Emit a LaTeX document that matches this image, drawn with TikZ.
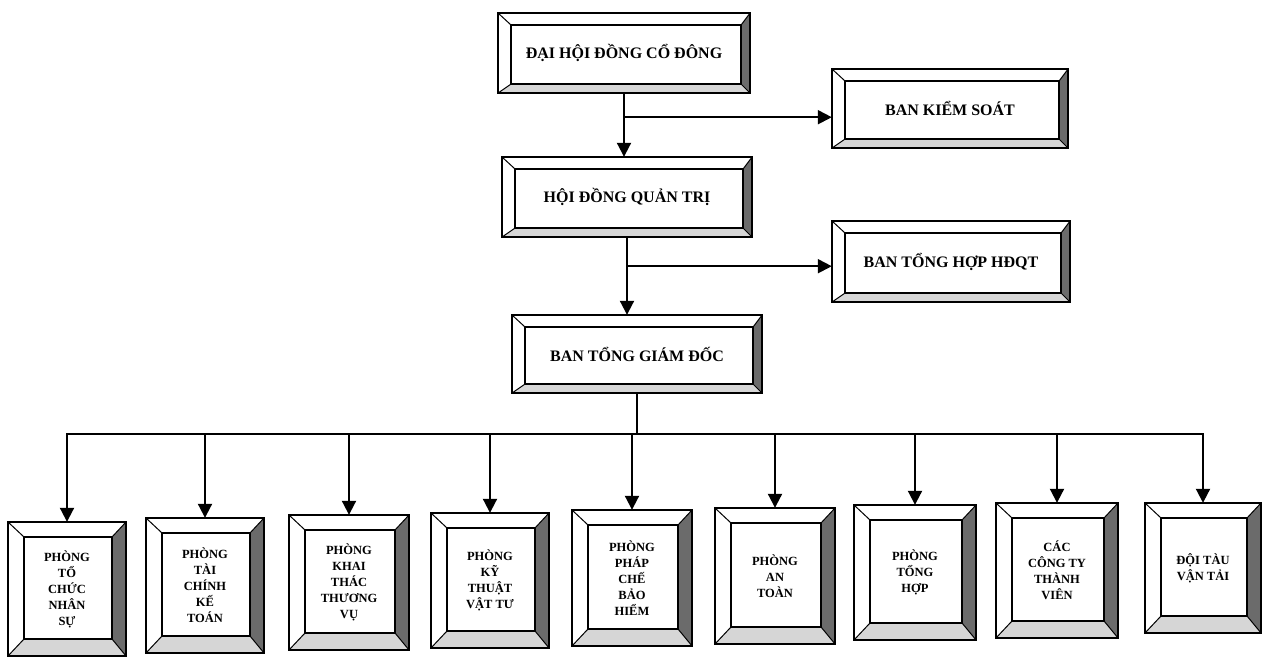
\documentclass[tikz,border=0pt]{standalone}
\usepackage{fontspec}
\setmainfont{Liberation Serif}
\usetikzlibrary{calc,arrows.meta}

\tikzset{
  bevel/.style={inner sep=0pt, align=center},
  topfont/.style={font=\bfseries\fontsize{16}{19}\selectfont},
  subfont/.style={font=\bfseries\fontsize{12.5}{16}\selectfont},
  darkbev/.style={fill=black!58},
  lightbev/.style={fill=black!16},
  outerline/.style={line width=1.9pt},
  innerline/.style={line width=1.5pt},
  diagline/.style={line width=1pt},
  conn/.style={line width=2pt},
  arr/.style={conn, -{Triangle[length=14pt,width=14pt]}},
}

% name, position, width, height, style, text
\newcommand{\bevelbox}[6]{%
  \node[bevel, minimum width=#3pt, minimum height=#4pt, #5] (#1) at (#2) {#6};
  \fill[darkbev] (#1.north east) -- (#1.south east) -- ($(#1.south east)+(-\bvr,-\bvb)$) -- ($(#1.north east)+(-\bvr,\bvt)$) -- cycle;
  \fill[lightbev] (#1.south west) -- (#1.south east) -- ($(#1.south east)+(-\bvr,-\bvb)$) -- ($(#1.south west)+(\bvl,-\bvb)$) -- cycle;
  \draw[diagline] (#1.north west) -- ($(#1.north west)+(\bvl,\bvt)$)
                  (#1.north east) -- ($(#1.north east)+(-\bvr,\bvt)$)
                  (#1.south east) -- ($(#1.south east)+(-\bvr,-\bvb)$)
                  (#1.south west) -- ($(#1.south west)+(\bvl,-\bvb)$);
  \draw[innerline] ($(#1.north west)+(\bvl,\bvt)$) rectangle ($(#1.south east)+(-\bvr,-\bvb)$);
  \draw[outerline] (#1.north west) rectangle (#1.south east);
}

\begin{document}
\begin{tikzpicture}[x=1pt,y=-1pt]
\useasboundingbox (0,0) rectangle (1263,657);

% wide boxes
\def\bvl{13}\def\bvt{12}\def\bvr{9}\def\bvb{9}
\bevelbox{dh}{624,53}{252}{80}{topfont}{ĐẠI HỘI ĐỒNG CỔ ĐÔNG}
\bevelbox{bks}{950,108.5}{236}{79}{topfont}{BAN KIỂM SOÁT}
\bevelbox{hd}{627,197}{250}{80}{topfont}{HỘI ĐỒNG QUẢN TRỊ}
\bevelbox{bth}{951,261.5}{238}{81}{topfont}{BAN TỔNG HỢP HĐQT}
\bevelbox{btgd}{637,354}{250}{78}{topfont}{BAN TỔNG GIÁM ĐỐC}

% tall boxes
\def\bvl{16}\def\bvt{15}\def\bvr{14}\def\bvb{17}
\bevelbox{p1}{67,589}{118}{134}{subfont}{PHÒNG\\TỔ\\CHỨC\\NHÂN\\SỰ}
\bevelbox{p2}{205,585.5}{118}{135}{subfont}{PHÒNG\\TÀI\\CHÍNH\\KẾ\\TOÁN}
\bevelbox{p3}{349,582.5}{120}{135}{subfont}{PHÒNG\\KHAI\\THÁC\\THƯƠNG\\VỤ}
\bevelbox{p4}{490,580.5}{118}{135}{subfont}{PHÒNG\\KỸ\\THUẬT\\VẬT TƯ}
\bevelbox{p5}{632,578}{120}{136}{subfont}{PHÒNG\\PHÁP\\CHẾ\\BẢO\\HIỂM}
\bevelbox{p6}{775,576}{120}{136}{subfont}{PHÒNG\\AN\\TOÀN}
\bevelbox{p7}{915,572.5}{122}{135}{subfont}{PHÒNG\\TỔNG\\HỢP}
\bevelbox{p8}{1057,570.5}{122}{135}{subfont}{CÁC\\CÔNG TY\\THÀNH\\VIÊN}
\bevelbox{p9}{1203,568}{116}{130}{subfont}{ĐỘI TÀU\\VẬN TẢI}

% connectors
\path (dh.south) ++(0,24) coordinate (j1);
\draw[arr] (dh.south) -- (dh.south |- hd.north);
\draw[arr] (j1) -- (j1 -| bks.west);

\path (hd.south) ++(0,29) coordinate (j2);
\draw[arr] (hd.south) -- (hd.south |- btgd.north);
\draw[arr] (j2) -- (j2 -| bth.west);

\coordinate (bus) at (0,434);
\draw[conn] (btgd.south) -- (btgd.south |- bus);
\draw[arr] (btgd.south |- bus) -- (p1.north |- bus) -- (p1.north);
\draw[arr] (btgd.south |- bus) -- (p9.north |- bus) -- (p9.north);
\foreach \i in {2,...,8} {
  \draw[arr] (p\i.north |- bus) -- (p\i.north);
}
\end{tikzpicture}
\end{document}
